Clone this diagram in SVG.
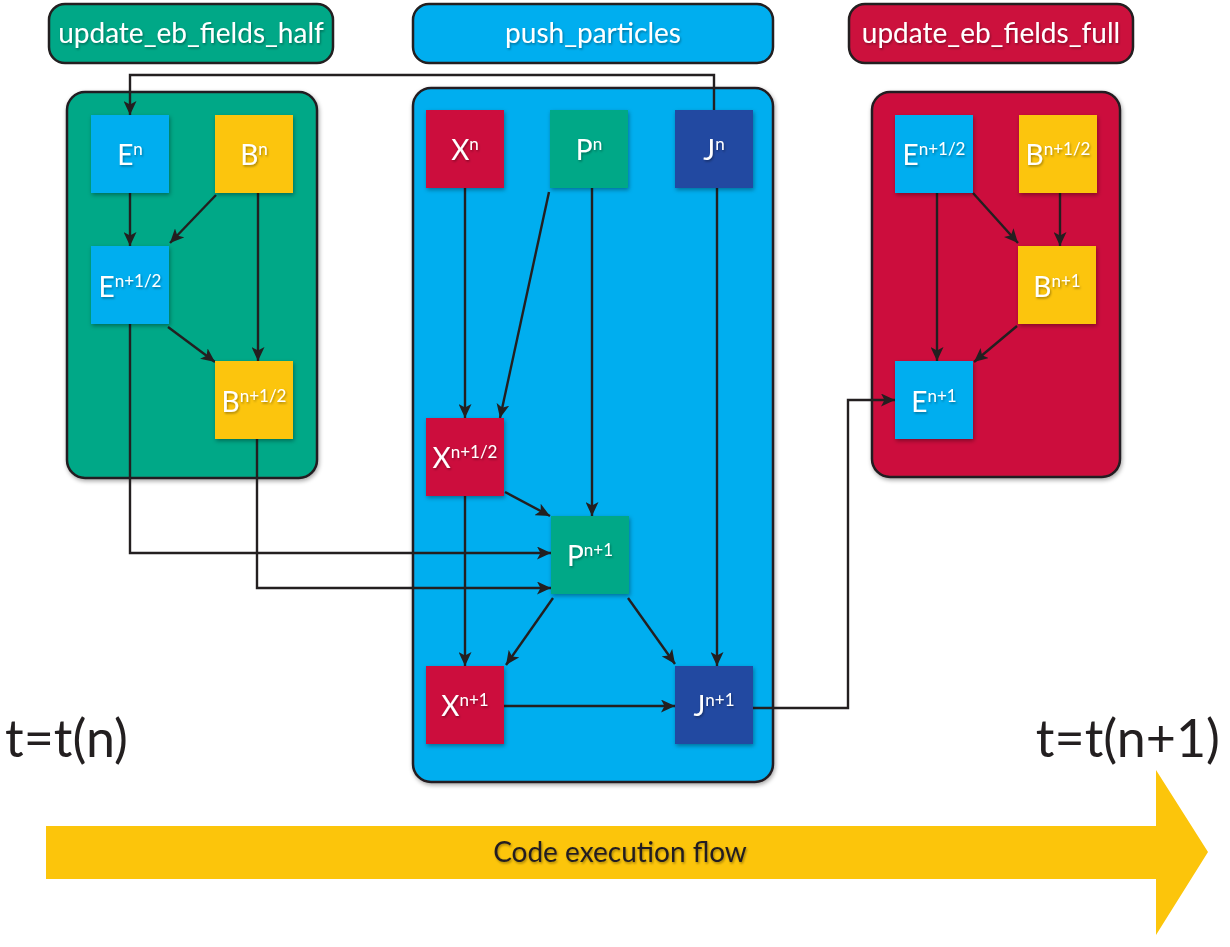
<svg xmlns="http://www.w3.org/2000/svg" width="1230" height="947" viewBox="0 0 1230 947">
<defs>
<style>
.hdr{stroke:#231f20;stroke-width:2.5}
.panel{stroke:#231f20;stroke-width:2.5;filter:url(#sh)}
.lbl{fill:#fff;font-family:Lato,"Open Sans",sans-serif;font-size:28px;text-anchor:middle;filter:url(#tsh)}
.node{filter:url(#sh)}
.nt{fill:#fff;font-family:Lato,"Open Sans",sans-serif;font-size:28px;text-anchor:middle;filter:url(#tsh)}
.sup{font-size:17px}
.c{fill:none;stroke:#231f20;stroke-width:2.4;marker-end:url(#ah)}
.tl{fill:#231f20;font-family:Lato,"Open Sans",sans-serif;font-size:52px}
.green{fill:#00a887}
.blue{fill:#00aeef}
.red{fill:#cc113d}
.yellow{fill:#fcc50b}
.navy{fill:#214aa1}
</style>
<marker id="ah" markerWidth="15" markerHeight="13" refX="14" refY="6.5" orient="auto" markerUnits="userSpaceOnUse"><path d="M0,0 L14,6.5 L0,13 L3.5,6.5 z" fill="#231f20"/></marker>
<filter id="sh" x="-20%" y="-20%" width="140%" height="140%"><feDropShadow dx="1" dy="2" stdDeviation="2" flood-color="#000" flood-opacity="0.35"/></filter>
<filter id="tsh" x="-20%" y="-30%" width="140%" height="160%"><feDropShadow dx="1" dy="1.5" stdDeviation="1" flood-color="#000" flood-opacity="0.35"/></filter>
</defs>
<rect width="1230" height="947" fill="#fff"/>

<g id="header-half"><rect class="hdr green" x="49" y="4" width="284" height="59" rx="16"/><text class="lbl" x="191" y="43">update_eb_fields_half</text></g>
<g id="header-push"><rect class="hdr blue" x="413" y="4" width="360" height="59" rx="16"/><text class="lbl" x="593" y="43">push_particles</text></g>
<g id="header-full"><rect class="hdr red" x="849" y="4" width="284" height="59" rx="16"/><text class="lbl" x="991" y="43">update_eb_fields_full</text></g>

<g id="panel-half"><rect class="panel green" x="67" y="92" width="250" height="386" rx="18"/></g>
<g id="panel-push"><rect class="panel blue" x="413" y="88" width="360" height="694" rx="18"/></g>
<g id="panel-full"><rect class="panel red" x="872" y="92" width="248" height="385" rx="18"/></g>

<g id="connectors">
<path class="c" d="M714,110 V75 H130 V115"/>
<path class="c" d="M130,193 V246"/>
<path class="c" d="M216,195 L170,243"/>
<path class="c" d="M258,193 V361"/>
<path class="c" d="M168,327 L215,362"/>
<path class="c" d="M130,324 V553 H551"/>
<path class="c" d="M257,439 V588 H551"/>
<path class="c" d="M465,188 V418"/>
<path class="c" d="M549,192 L500,418"/>
<path class="c" d="M592,188 V516"/>
<path class="c" d="M717,188 V666"/>
<path class="c" d="M505,492 L550,516"/>
<path class="c" d="M465,496 V666"/>
<path class="c" d="M553,598 L506,665"/>
<path class="c" d="M628,598 L675,664"/>
<path class="c" d="M504,706 H675"/>
<path class="c" d="M753,708 H848 V400 H895"/>
<path class="c" d="M937,193 V361"/>
<path class="c" d="M973,193 L1018,243"/>
<path class="c" d="M1060,193 V246"/>
<path class="c" d="M1017,326 L974,362"/>
</g>

<g id="node-En"><rect class="node blue" x="91" y="115" width="78" height="78"/><text class="nt" x="130" y="165">E<tspan class="sup" dy="-10">n</tspan></text></g>
<g id="node-Bn"><rect class="node yellow" x="215" y="115" width="78" height="78"/><text class="nt" x="254" y="165">B<tspan class="sup" dy="-10">n</tspan></text></g>
<g id="node-Enh"><rect class="node blue" x="91" y="246" width="78" height="78"/><text class="nt" x="130" y="297">E<tspan class="sup" dy="-10">n+1/2</tspan></text></g>
<g id="node-Bnh"><rect class="node yellow" x="215" y="361" width="78" height="78"/><text class="nt" x="254" y="412">B<tspan class="sup" dy="-10">n+1/2</tspan></text></g>

<g id="node-Xn"><rect class="node red" x="426" y="110" width="78" height="78"/><text class="nt" x="465" y="160">X<tspan class="sup" dy="-10">n</tspan></text></g>
<g id="node-Pn"><rect class="node green" x="550" y="110" width="78" height="78"/><text class="nt" x="589" y="160">P<tspan class="sup" dy="-10">n</tspan></text></g>
<g id="node-Jn"><rect class="node navy" x="675" y="110" width="78" height="78"/><text class="nt" x="714" y="160">J<tspan class="sup" dy="-10">n</tspan></text></g>
<g id="node-Xnh"><rect class="node red" x="426" y="418" width="78" height="78"/><text class="nt" x="465" y="468">X<tspan class="sup" dy="-10">n+1/2</tspan></text></g>
<g id="node-Pn1"><rect class="node green" x="551" y="516" width="78" height="78"/><text class="nt" x="590" y="566">P<tspan class="sup" dy="-10">n+1</tspan></text></g>
<g id="node-Xn1"><rect class="node red" x="426" y="666" width="78" height="78"/><text class="nt" x="465" y="716">X<tspan class="sup" dy="-10">n+1</tspan></text></g>
<g id="node-Jn1"><rect class="node navy" x="675" y="666" width="78" height="78"/><text class="nt" x="714" y="716">J<tspan class="sup" dy="-10">n+1</tspan></text></g>

<g id="node-Enh-full"><rect class="node blue" x="895" y="115" width="78" height="78"/><text class="nt" x="934" y="165">E<tspan class="sup" dy="-10">n+1/2</tspan></text></g>
<g id="node-Bnh-full"><rect class="node yellow" x="1019" y="115" width="78" height="78"/><text class="nt" x="1058" y="165">B<tspan class="sup" dy="-10">n+1/2</tspan></text></g>
<g id="node-Bn1"><rect class="node yellow" x="1018" y="246" width="78" height="78"/><text class="nt" x="1057" y="297">B<tspan class="sup" dy="-10">n+1</tspan></text></g>
<g id="node-En1"><rect class="node blue" x="895" y="361" width="78" height="78"/><text class="nt" x="934" y="412">E<tspan class="sup" dy="-10">n+1</tspan></text></g>

<g id="time-labels">
<text class="tl" x="5" y="757">t=t(n)</text>
<text class="tl" x="1220" y="757" text-anchor="end" font-size="45">t=t(n+1)</text>
</g>

<g id="flow-arrow">
<polygon class="yellow" points="46,826 1156,826 1156,770 1208,852 1156,935 1156,879 46,879"/>
<text x="620" y="862" fill="#231f20" font-family="Lato, 'Open Sans', sans-serif" font-size="28" text-anchor="middle" filter="url(#tsh)">Code execution flow</text>
</g>
</svg>
